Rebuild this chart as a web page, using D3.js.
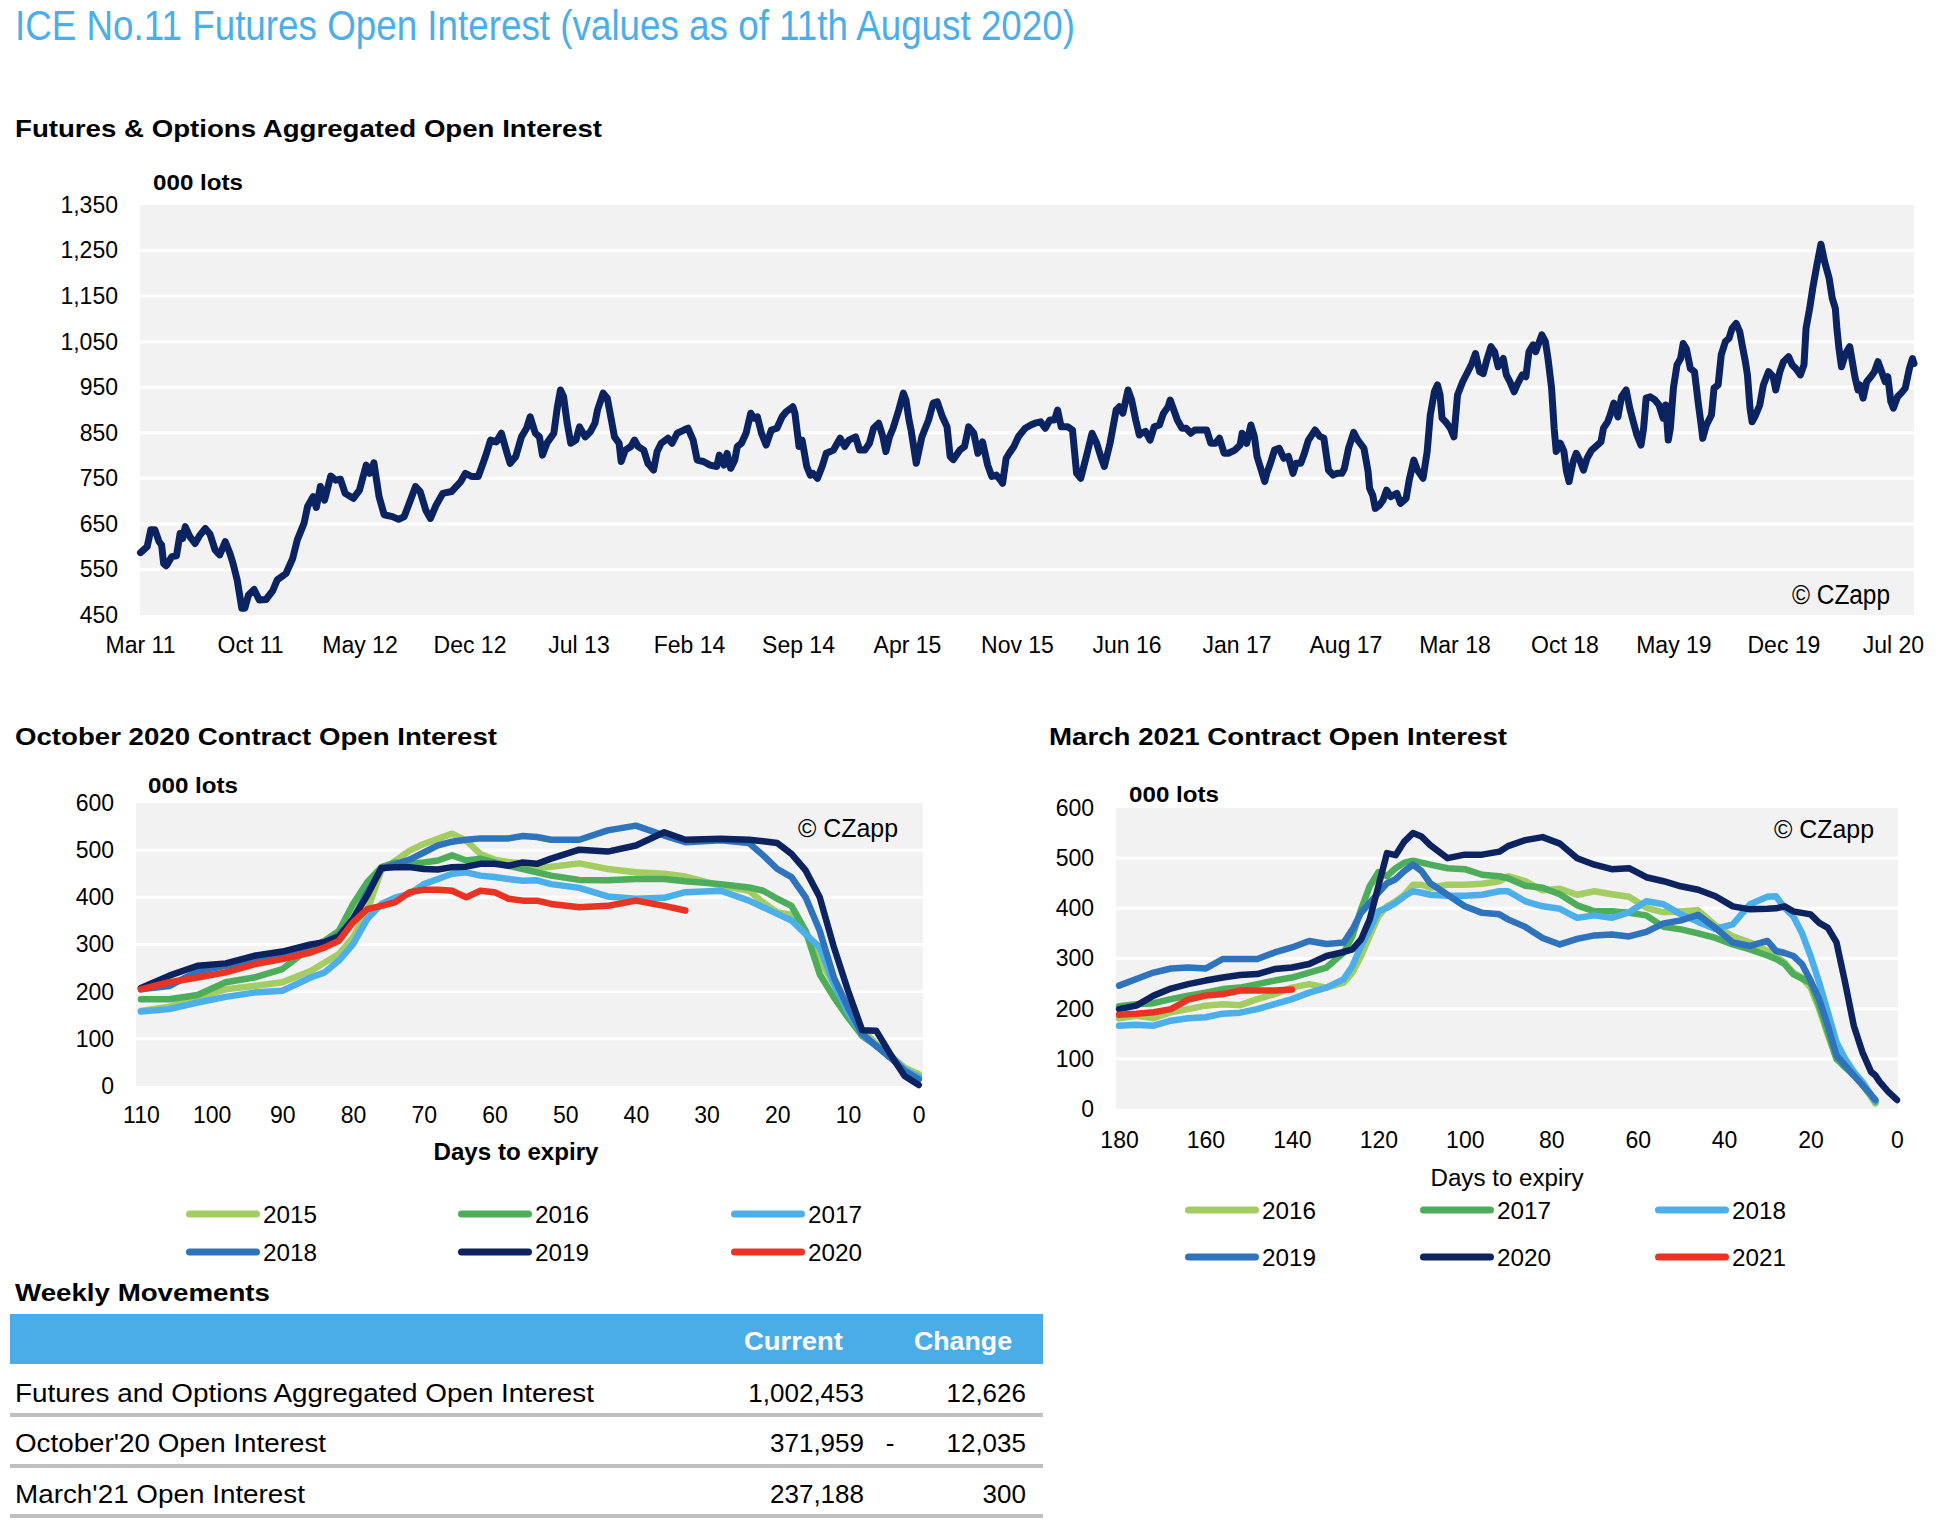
<!DOCTYPE html>
<html><head><meta charset="utf-8">
<script src="https://cdn.jsdelivr.net/npm/d3@7"></script>
<style>
body{margin:0;background:#fff}
text{font-family:"Liberation Sans",Arial,Helvetica,sans-serif}
.narrow{font-family:"Liberation Sans Narrow","Liberation Sans",Arial,sans-serif}
</style>
</head><body><svg id="c" width="1956" height="1534"></svg>
<script>
// ---------------- DATA ----------------
const oiDates = ["2011-03-02","2011-03-15","2011-03-22","2011-03-30","2011-04-07","2011-04-12","2011-04-16","2011-04-21","2011-05-02","2011-05-11","2011-05-18","2011-05-23","2011-05-28","2011-06-06","2011-06-16","2011-06-26","2011-07-06","2011-07-15","2011-07-25","2011-08-03","2011-08-14","2011-08-23","2011-08-29","2011-09-06","2011-09-15","2011-09-21","2011-09-28","2011-10-09","2011-10-19","2011-11-01","2011-11-14","2011-11-23","2011-12-10","2011-12-23","2012-01-01","2012-01-14","2012-01-21","2012-02-01","2012-02-07","2012-02-15","2012-02-23","2012-03-06","2012-03-16","2012-03-25","2012-04-03","2012-04-19","2012-05-01","2012-05-14","2012-05-21","2012-05-29","2012-06-08","2012-06-18","2012-07-04","2012-07-16","2012-07-27","2012-08-08","2012-08-18","2012-08-27","2012-09-07","2012-09-16","2012-09-27","2012-10-10","2012-10-27","2012-11-14","2012-11-23","2012-12-05","2012-12-18","2013-01-01","2013-01-11","2013-01-22","2013-02-01","2013-02-12","2013-02-18","2013-03-01","2013-03-12","2013-03-22","2013-03-29","2013-04-08","2013-04-16","2013-04-22","2013-05-01","2013-05-14","2013-05-21","2013-05-27","2013-06-02","2013-06-09","2013-06-16","2013-06-26","2013-07-03","2013-07-14","2013-07-24","2013-08-02","2013-08-07","2013-08-18","2013-08-26","2013-09-03","2013-09-09","2013-09-18","2013-09-22","2013-09-30","2013-10-11","2013-10-18","2013-10-25","2013-11-05","2013-11-13","2013-11-24","2013-12-01","2013-12-09","2013-12-22","2013-12-30","2014-01-09","2014-01-22","2014-01-30","2014-02-09","2014-02-17","2014-03-01","2014-03-14","2014-03-27","2014-04-01","2014-04-10","2014-04-16","2014-04-23","2014-05-01","2014-05-06","2014-05-14","2014-05-23","2014-06-01","2014-06-07","2014-06-14","2014-06-22","2014-07-01","2014-07-11","2014-07-22","2014-08-01","2014-08-09","2014-08-22","2014-08-26","2014-09-03","2014-09-09","2014-09-18","2014-09-25","2014-09-30","2014-10-09","2014-10-18","2014-10-26","2014-11-09","2014-11-22","2014-12-01","2014-12-09","2014-12-22","2014-12-30","2015-01-09","2015-01-18","2015-01-26","2015-02-05","2015-02-13","2015-02-19","2015-02-26","2015-03-05","2015-03-16","2015-03-25","2015-03-30","2015-04-05","2015-04-09","2015-04-19","2015-04-30","2015-05-13","2015-05-22","2015-05-30","2015-06-09","2015-06-18","2015-06-24","2015-06-30","2015-07-13","2015-07-22","2015-07-30","2015-08-09","2015-08-17","2015-08-26","2015-09-05","2015-09-13","2015-09-22","2015-09-30","2015-10-04","2015-10-11","2015-10-17","2015-10-26","2015-11-04","2015-11-17","2015-11-28","2015-12-06","2015-12-17","2015-12-26","2016-01-04","2016-01-13","2016-01-19","2016-01-26","2016-02-08","2016-02-17","2016-02-25","2016-03-04","2016-03-15","2016-03-26","2016-04-04","2016-04-12","2016-04-19","2016-04-30","2016-05-12","2016-05-18","2016-05-25","2016-06-04","2016-06-11","2016-06-19","2016-06-26","2016-06-30","2016-07-08","2016-07-17","2016-07-25","2016-08-04","2016-08-12","2016-08-21","2016-08-25","2016-09-01","2016-09-08","2016-09-17","2016-09-25","2016-10-04","2016-10-12","2016-10-21","2016-11-04","2016-11-12","2016-11-21","2016-11-29","2016-12-08","2016-12-16","2016-12-29","2017-01-08","2017-01-12","2017-01-21","2017-01-29","2017-02-05","2017-02-10","2017-02-16","2017-02-25","2017-03-01","2017-03-08","2017-03-16","2017-03-25","2017-04-03","2017-04-12","2017-04-21","2017-04-27","2017-05-06","2017-05-12","2017-05-21","2017-06-03","2017-06-12","2017-06-20","2017-06-29","2017-07-08","2017-07-16","2017-07-25","2017-07-30","2017-08-07","2017-08-17","2017-08-25","2017-09-06","2017-09-14","2017-09-17","2017-09-23","2017-09-28","2017-10-06","2017-10-13","2017-10-20","2017-10-28","2017-11-09","2017-11-16","2017-11-27","2017-12-03","2017-12-12","2017-12-19","2017-12-30","2018-01-07","2018-01-13","2018-01-21","2018-01-27","2018-02-01","2018-02-05","2018-02-14","2018-02-21","2018-02-28","2018-03-07","2018-03-17","2018-03-27","2018-04-04","2018-04-11","2018-04-19","2018-04-26","2018-05-03","2018-05-11","2018-05-18","2018-05-25","2018-06-04","2018-06-10","2018-06-17","2018-06-25","2018-07-02","2018-07-11","2018-07-18","2018-07-24","2018-08-01","2018-08-06","2018-08-18","2018-08-25","2018-08-30","2018-09-06","2018-09-11","2018-09-15","2018-09-23","2018-09-30","2018-10-05","2018-10-10","2018-10-18","2018-10-24","2018-11-01","2018-11-07","2018-11-14","2018-11-23","2018-12-04","2018-12-11","2018-12-16","2018-12-24","2018-12-29","2019-01-05","2019-01-13","2019-01-20","2019-01-29","2019-02-05","2019-02-12","2019-02-19","2019-02-27","2019-03-04","2019-03-09","2019-03-17","2019-03-26","2019-04-03","2019-04-11","2019-04-16","2019-04-21","2019-04-25","2019-05-01","2019-05-08","2019-05-15","2019-05-20","2019-05-26","2019-06-03","2019-06-11","2019-06-18","2019-06-24","2019-06-27","2019-07-04","2019-07-14","2019-07-19","2019-07-27","2019-08-02","2019-08-10","2019-08-17","2019-08-23","2019-08-31","2019-09-07","2019-09-13","2019-09-18","2019-09-22","2019-09-27","2019-10-01","2019-10-08","2019-10-16","2019-10-23","2019-11-02","2019-11-11","2019-11-16","2019-11-24","2019-12-01","2019-12-11","2019-12-18","2019-12-25","2020-01-03","2020-01-10","2020-01-14","2020-01-21","2020-01-27","2020-02-04","2020-02-12","2020-02-19","2020-02-28","2020-03-05","2020-03-11","2020-03-14","2020-03-18","2020-03-23","2020-03-31","2020-04-08","2020-04-13","2020-04-18","2020-04-24","2020-04-28","2020-05-04","2020-05-11","2020-05-19","2020-05-26","2020-06-02","2020-06-09","2020-06-16","2020-06-21","2020-06-27","2020-07-02","2020-07-10","2020-07-17","2020-07-25","2020-08-02","2020-08-08","2020-08-11"];
const oiValues = [587,600,637,637,611,604,563,558,578,580,629,618,644,622,607,626,640,628,593,582,611,585,563,527,465,465,494,506,483,484,503,527,541,574,615,651,688,710,686,732,702,755,746,748,717,706,724,779,761,784,710,670,666,660,666,702,732,721,680,662,691,717,721,743,761,754,754,798,834,830,849,805,783,798,841,860,885,849,841,801,828,849,907,944,929,871,827,834,863,841,852,871,900,937,926,878,841,827,787,812,820,834,820,812,783,768,809,827,838,827,849,856,860,834,790,787,779,776,801,779,805,772,790,820,827,849,893,882,885,849,823,856,860,885,896,907,893,820,834,776,757,761,750,776,805,812,838,820,834,841,812,812,827,860,871,842,809,841,860,900,937,922,878,856,783,841,878,915,918,885,863,798,791,812,820,863,849,805,830,779,754,757,746,739,794,805,820,842,860,867,871,874,860,878,878,900,863,863,856,761,750,798,849,827,798,776,827,900,907,893,944,922,878,845,849,853,834,863,867,893,907,922,900,878,860,860,849,856,856,856,827,827,838,805,805,812,823,849,827,867,841,798,776,743,761,783,812,816,794,798,761,783,783,801,834,856,842,838,768,757,761,761,772,816,851,834,816,765,728,713,684,691,702,724,710,717,695,706,746,790,768,750,809,889,940,955,933,882,871,860,841,933,962,984,1002,1024,984,980,1010,1039,1028,995,1013,977,962,940,958,977,973,1028,1043,1028,1065,1050,1013,948,860,809,827,809,765,743,787,805,787,768,794,812,823,830,860,874,889,915,885,929,944,904,874,845,823,860,926,929,922,911,882,911,834,860,948,999,1013,1046,1035,991,984,918,867,838,867,889,948,955,1021,1050,1057,1079,1090,1072,1035,1006,977,904,874,889,911,955,984,973,944,984,1006,1017,999,991,977,999,1079,1123,1167,1218,1264,1226,1189,1145,1123,1079,1035,995,1024,1039,1006,973,944,955,926,962,973,984,1006,984,962,973,918,904,929,937,948,991,1013,1002];
const oiTickDates = ["2011-03-01","2011-10-01","2012-05-01","2012-12-01","2013-07-01","2014-02-01","2014-09-01","2015-04-01","2015-11-01","2016-06-01","2017-01-01","2017-08-01","2018-03-01","2018-10-01","2019-05-01","2019-12-01","2020-07-01"];
const oiYTicks = [450,550,650,750,850,950,1050,1150,1250,1350];

const octDays = [110,106,102,98,94,90,86,84,82,80,78,76,74,72,70,68,66,64,62,60,58,56,54,52,48,44,40,36,33,28,24,22,20,18,16,14,12,10,8,6,4,2,0];
const oct2015 = [159,168,188,205,212,220,244,262,280,315,372,457,478,499,513,524,535,520,492,480,475,472,462,465,472,460,453,450,444,425,414,389,368,363,329,266,216,166,120,89,64,39,25];
const oct2016 = [184,184,193,220,230,248,294,308,329,386,432,464,474,471,474,478,489,478,482,474,467,460,453,446,437,436,439,439,434,428,421,414,397,382,329,237,188,145,106,85,60,33,18];
const oct2017 = [158,163,177,189,198,202,230,241,266,301,354,386,400,407,428,439,450,453,446,443,439,435,436,428,420,402,397,399,411,414,393,379,365,351,322,294,216,156,110,85,64,35,19];
const oct2018 = [205,212,243,255,265,280,298,305,320,355,410,460,470,480,495,510,518,522,525,525,525,530,528,522,522,542,552,531,517,521,515,489,460,443,400,329,230,166,110,85,60,32,14];
const oct2019 = [208,234,255,260,276,285,300,305,317,354,404,462,464,464,460,459,464,465,471,471,467,474,471,482,501,497,510,538,522,524,522,519,515,492,457,400,294,202,118,117,67,21,2];
const oct2020 = [205,220,230,241,258,269,283,294,308,347,375,382,390,411,416,416,414,400,414,411,397,393,393,386,379,382,393,382,372,null,null,null,null,null,null,null,null,null,null,null,null,null,null];
const octYears = ["2015","2016","2017","2018","2019","2020"];
const octXTicks = [110,100,90,80,70,60,50,40,30,20,10,0];

const marDays = [180,176,172,168,164,160,156,152,148,144,140,136,132,128,126,124,122,120,118,116,114,112,110,108,104,100,96,92,90,86,82,78,74,70,66,62,58,54,50,46,42,38,34,30,28,26,24,22,20,18,16,14,12,10,8,6,5,4,2,0];
const mar2016 = [181,186,181,193,199,206,209,207,219,229,242,249,242,252,272,305,345,384,404,414,427,447,447,441,447,447,449,454,464,454,436,439,427,434,428,423,401,392,394,396,366,344,332,315,305,292,272,262,242,199,147,100,87,71,48,24,11,null,null,null];
const mar2017 = [205,209,211,219,226,232,239,242,249,256,262,272,282,312,345,398,444,472,464,480,491,495,491,487,480,478,467,464,460,445,441,428,406,394,394,391,386,363,358,350,341,328,318,306,299,289,269,260,251,206,153,100,83,67,48,28,15,null,null,null];
const mar2018 = [166,168,166,176,181,183,190,192,199,209,219,232,242,259,285,325,358,394,401,411,424,434,431,427,425,425,427,434,434,414,404,399,381,386,381,392,414,408,388,373,359,368,408,423,424,401,384,351,305,252,193,133,100,74,54,28,15,null,null,null];
const mar2019 = [246,259,272,280,282,280,299,299,299,312,322,335,329,332,358,391,411,431,450,458,474,487,474,450,427,404,391,388,378,363,341,328,339,346,348,344,353,370,376,387,361,332,325,335,315,311,305,289,256,219,166,107,87,67,48,28,18,null,null,null];
const mar2020 = [199,206,226,240,249,256,262,267,269,279,282,289,305,313,318,338,378,444,510,506,533,550,543,526,500,507,507,513,524,536,542,529,500,487,478,480,462,454,444,437,424,404,398,399,400,404,394,391,388,371,361,332,252,166,113,74,67,54,34,18];
const mar2021 = [188,190,193,199,218,226,229,236,236,236,238,null,null,null,null,null,null,null,null,null,null,null,null,null,null,null,null,null,null,null,null,null,null,null,null,null,null,null,null,null,null,null,null,null,null,null,null,null,null,null,null,null,null,null,null,null,null,null,null,null];
const marYears = ["2016","2017","2018","2019","2020","2021"];
const marXTicks = [180,160,140,120,100,80,60,40,20,0];

const smallYTicks = [0,100,200,300,400,500,600];

const tableLabels = ["Futures and Options Aggregated Open Interest","October'20 Open Interest","March'21 Open Interest"];
const tableCurrent = [1002453,371959,237188];
const tableChange = [12626,-12035,300];

// ---------------- DRAW ----------------
const svg = d3.select("#c");
svg.append("rect").attr("width",1956).attr("height",1534).attr("fill","#fff");
const colors = ["#A3CD63","#4DAD5B","#4DAFEA","#2E73BC","#0C2360","#EA3323"];
const BG = "#F2F2F2";

function label(g, x, y, s, o={}) {
  const t = g.append("text").attr("x",x).attr("y",y).text(s)
    .attr("font-size", o.size||23).attr("font-weight", o.bold?"bold":"normal")
    .attr("fill", o.fill||"#000").attr("text-anchor", o.anchor||"start");
  if (o.cls) t.attr("class", o.cls);
  if (o.width) t.attr("textLength", o.width).attr("lengthAdjust","spacingAndGlyphs");
  return t;
}
function styleAxis(g, size){
  g.select(".domain").remove();
  g.selectAll(".tick line").remove();
  g.attr("font-family", null).attr("font-size", null);
  g.selectAll("text").attr("font-size", size).attr("fill","#000");
}

// titles
label(svg, 15, 40, "ICE No.11 Futures Open Interest (values as of 11th August 2020)", {size:42, fill:"#4BAEE8", width:1060, cls:"narrow"});
label(svg, 15, 137, "Futures & Options Aggregated Open Interest", {size:24, bold:true, width:587});
label(svg, 153, 190, "000 lots", {size:22, bold:true, width:90});

// ---- top chart
const parse = d3.timeParse("%Y-%m-%d");
const T = {l:140, r:1914, t:205, b:615};
const xT = d3.scaleTime().domain([parse("2011-03-01"), parse("2020-08-11")]).range([T.l, T.r]);
const yT = d3.scaleLinear().domain([450,1350]).range([T.b, T.t]);
const gT = svg.append("g");
gT.append("rect").attr("x",T.l).attr("y",T.t).attr("width",T.r-T.l).attr("height",T.b-T.t).attr("fill",BG);
gT.selectAll("line.grid").data(oiYTicks.slice(1,-1)).enter().append("line")
  .attr("x1",T.l).attr("x2",T.r).attr("y1",d=>yT(d)).attr("y2",d=>yT(d))
  .attr("stroke","#fff").attr("stroke-width",3);
styleAxis(gT.append("g").attr("transform",`translate(${T.l},0)`)
  .call(d3.axisLeft(yT).tickValues(oiYTicks).tickFormat(d3.format(",")).tickSize(0).tickPadding(22)), 23);
styleAxis(gT.append("g").attr("transform",`translate(0,${T.b})`)
  .call(d3.axisBottom(xT).tickValues(oiTickDates.map(parse)).tickFormat(d3.timeFormat("%b %y")).tickSize(0).tickPadding(22)), 23);
const oiData = oiDates.map((d,i)=>({d:parse(d), v:oiValues[i]}));
gT.append("path").datum(oiData)
  .attr("d", d3.line().x(p=>xT(p.d)).y(p=>yT(p.v)))
  .attr("fill","none").attr("stroke","#0B2461").attr("stroke-width",7)
  .attr("stroke-linejoin","round").attr("stroke-linecap","round");
label(gT, 1890, 604, "\u00A9 CZapp", {size:27, anchor:"end", width:98, cls:"narrow"});

// ---- small charts
function smallChart(c) {
  const g = svg.append("g");
  const x = d3.scaleLinear().domain(c.xDomain).range([c.l, c.r]);
  const y = d3.scaleLinear().domain([0,600]).range([c.b, c.t]);
  g.append("rect").attr("x",c.l).attr("y",c.t).attr("width",c.r-c.l).attr("height",c.b-c.t).attr("fill",BG);
  g.selectAll("line.grid").data(smallYTicks.slice(1,-1)).enter().append("line")
    .attr("x1",c.l).attr("x2",c.r).attr("y1",d=>y(d)).attr("y2",d=>y(d))
    .attr("stroke","#fff").attr("stroke-width",3);
  styleAxis(g.append("g").attr("transform",`translate(${c.l},0)`)
    .call(d3.axisLeft(y).tickValues(smallYTicks).tickSize(0).tickPadding(22)), 23);
  styleAxis(g.append("g").attr("transform",`translate(0,${c.b})`)
    .call(d3.axisBottom(x).tickValues(c.xTicks).tickSize(0).tickPadding(c.xPad)), 23);
  const line = d3.line().defined(v=>v[1]!=null).x(v=>x(v[0])).y(v=>y(v[1]));
  c.series.forEach((s,i)=>{
    g.append("path").datum(c.days.map((d,j)=>[d, s[j]]))
      .attr("d", line).attr("fill","none").attr("stroke", colors[i]).attr("stroke-width",6.5)
      .attr("stroke-linejoin","round").attr("stroke-linecap","round");
  });
  label(g, c.title[0], 745, c.title[1], {size:24, bold:true, width:c.title[2]});
  label(g, c.lots[0], c.lots[1], "000 lots", {size:22, bold:true, width:90});
  label(g, c.cz[0], c.cz[1], "\u00A9 CZapp", {size:26, anchor:"end", width:100, cls:"narrow"});
  label(g, c.xt[0], c.xt[1], "Days to expiry", {size:23, bold:c.xt[3], anchor:"middle", width:c.xt[2]});
  c.years.forEach((yr,i)=>{
    const lx = c.legX[i%3], ly = c.legY[Math.floor(i/3)];
    g.append("line").attr("x1",lx+3.5).attr("x2",lx+70.5).attr("y1",ly).attr("y2",ly)
      .attr("stroke",colors[i]).attr("stroke-width",7).attr("stroke-linecap","round");
    label(g, lx+77, ly+8.5, yr, {size:24, width:54});
  });
}
smallChart({l:136, r:923, t:803, b:1086, xDomain:[110.7,-0.6], xTicks:octXTicks, xPad:21,
  days:octDays, series:[oct2015,oct2016,oct2017,oct2018,oct2019,oct2020], years:octYears,
  title:[15,"October 2020 Contract Open Interest",482], lots:[148,793], cz:[898,837],
  xt:[516,1160,165,true], legX:[186,458,731], legY:[1214,1252]});
smallChart({l:1116, r:1898, t:808, b:1109, xDomain:[180.7,-0.23], xTicks:marXTicks, xPad:23,
  days:marDays, series:[mar2016,mar2017,mar2018,mar2019,mar2020,mar2021], years:marYears,
  title:[1049,"March 2021 Contract Open Interest",458], lots:[1129,802], cz:[1874,838],
  xt:[1507,1186,153,false], legX:[1185,1420,1655], legY:[1210,1257]});

// ---- table
const gTab = svg.append("g");
label(gTab, 15, 1301, "Weekly Movements", {size:24, bold:true, width:255});
gTab.append("rect").attr("x",10).attr("y",1314).attr("width",1033).attr("height",50).attr("fill","#4BADE8");
label(gTab, 843, 1350, "Current", {size:26, bold:true, fill:"#fff", anchor:"end", width:99});
label(gTab, 1012, 1350, "Change", {size:26, bold:true, fill:"#fff", anchor:"end", width:98});
const fmt = d3.format(",");
const rowBase = [1402,1452,1503], rowLine = [1415,1466,1516], rowW = [579,311,290];
tableLabels.forEach((t,i)=>{
  label(gTab, 15, rowBase[i], t, {size:26, width:rowW[i]});
  label(gTab, 864, rowBase[i], fmt(tableCurrent[i]), {size:26, anchor:"end"});
  label(gTab, 1026, rowBase[i], fmt(Math.abs(tableChange[i])), {size:26, anchor:"end"});
  if (tableChange[i] < 0) label(gTab, 890, rowBase[i], "-", {size:26, anchor:"middle"});
  gTab.append("line").attr("x1",10).attr("x2",1043).attr("y1",rowLine[i]).attr("y2",rowLine[i])
    .attr("stroke","#BFBFBF").attr("stroke-width",4);
});
</script>
</body></html>
